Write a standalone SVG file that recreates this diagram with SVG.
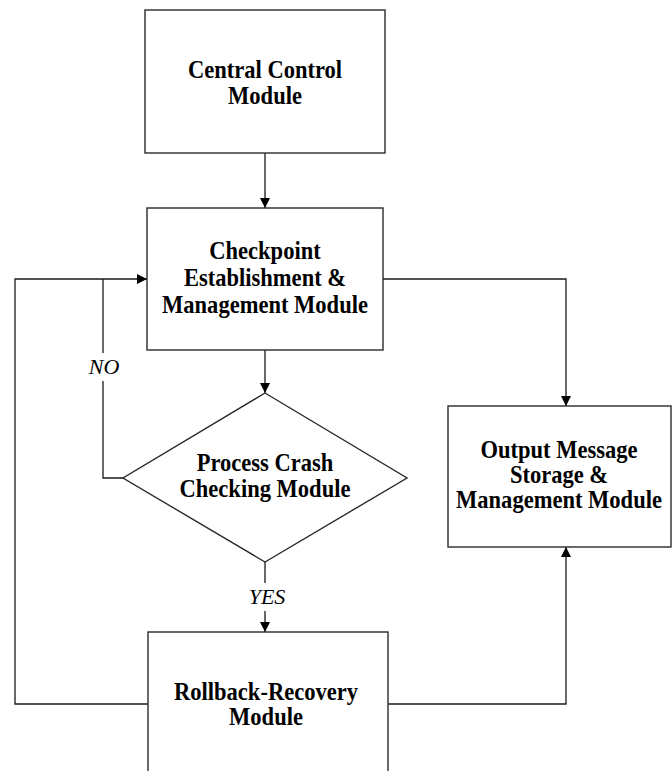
<svg xmlns="http://www.w3.org/2000/svg" width="672" height="771" viewBox="0 0 672 771">
  <style>
    .box { fill: #ffffff; stroke: #2a2a2a; stroke-width: 1.4; }
    .lbl { font-family: "Liberation Serif", "Times New Roman", serif; font-weight: bold; font-size: 24.5px; fill: #000; text-anchor: middle; }
    .cond { font-family: "Liberation Serif", "Times New Roman", serif; font-style: italic; font-size: 22px; fill: #000; text-anchor: middle; }
    .wire { fill: none; stroke: #1a1a1a; stroke-width: 1.3; }
  </style>
  <defs>
    <marker id="arrow" markerUnits="userSpaceOnUse" markerWidth="10" markerHeight="10" refX="10" refY="5" orient="auto">
      <path d="M0,0 L10,5 L0,10 z" fill="#000"/>
    </marker>
  </defs>
  <rect width="672" height="771" fill="#ffffff"/>

  <!-- connectors -->
  <g id="connectors">
    <line class="wire" x1="265" y1="153" x2="265" y2="208" marker-end="url(#arrow)"/>
    <line class="wire" x1="265" y1="350" x2="265" y2="393" marker-end="url(#arrow)"/>
    <!-- checkpoint to output storage -->
    <polyline class="wire" points="383,279 566,279 566,406" marker-end="url(#arrow)"/>
    <!-- NO branch back to checkpoint -->
    <polyline class="wire" points="123,478 103,478 103,381"/>
    <line class="wire" x1="103" y1="353" x2="103" y2="279"/>
    <!-- rollback loop back to checkpoint -->
    <polyline class="wire" points="148,704 15,704 15,279 147,279" marker-end="url(#arrow)"/>
    <!-- YES branch to rollback -->
    <line class="wire" x1="265" y1="562" x2="265" y2="583"/>
    <line class="wire" x1="265" y1="611" x2="265" y2="632" marker-end="url(#arrow)"/>
    <!-- rollback to output storage -->
    <polyline class="wire" points="388,704 566,704 566,547" marker-end="url(#arrow)"/>
    <text class="cond" x="104" y="374">NO</text>
    <text class="cond" x="267" y="604">YES</text>
  </g>

  <!-- labels are drawn slightly condensed, centred on each node -->
  <g id="central-control">
    <rect class="box" x="145" y="10" width="240" height="143"/>
    <g transform="translate(265,0) scale(0.92,1)">
      <text class="lbl" x="0" y="78">Central Control</text>
      <text class="lbl" x="0" y="104">Module</text>
    </g>
  </g>

  <g id="checkpoint-management">
    <rect class="box" x="147" y="208" width="236" height="142"/>
    <g transform="translate(265,0) scale(0.92,1)">
      <text class="lbl" x="0" y="259">Checkpoint</text>
      <text class="lbl" x="0" y="286">Establishment &amp;</text>
      <text class="lbl" x="0" y="313">Management Module</text>
    </g>
  </g>

  <g id="crash-checking">
    <polygon class="box" points="265,393 407,478 265,562 123,478"/>
    <g transform="translate(265,0) scale(0.92,1)">
      <text class="lbl" x="0" y="471">Process Crash</text>
      <text class="lbl" x="0" y="497">Checking Module</text>
    </g>
  </g>

  <g id="output-storage">
    <rect class="box" x="448" y="406" width="223" height="141"/>
    <g transform="translate(559,0) scale(0.92,1)">
      <text class="lbl" x="0" y="458">Output Message</text>
      <text class="lbl" x="0" y="483">Storage &amp;</text>
      <text class="lbl" x="0" y="508">Management Module</text>
    </g>
  </g>

  <g id="rollback-recovery">
    <rect class="box" x="148" y="632" width="240" height="160"/>
    <g transform="translate(266,0) scale(0.92,1)">
      <text class="lbl" x="0" y="700">Rollback-Recovery</text>
      <text class="lbl" x="0" y="725">Module</text>
    </g>
  </g>
</svg>
